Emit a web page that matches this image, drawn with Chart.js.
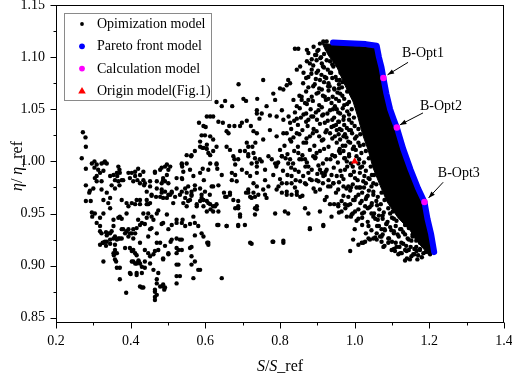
<!DOCTYPE html>
<html>
<head>
<meta charset="utf-8">
<script src="https://cdn.jsdelivr.net/npm/chart.js@4.4.0/dist/chart.umd.min.js"></script>
<style>
html, body { margin: 0; padding: 0; background: #fff; }
</style>
</head>
<body>
<canvas id="chart" width="512" height="376"></canvas>
<script>
"use strict";

var xMajor = [0.2, 0.4, 0.6, 0.8, 1.0, 1.2, 1.4];
var xMinor = [0.3, 0.5, 0.7, 0.9, 1.1, 1.3];
var yMajor = [0.85, 0.90, 0.95, 1.00, 1.05, 1.10, 1.15];
var yMinor = [0.875, 0.925, 0.975, 1.025, 1.075, 1.125];

var legendNames = ["Opimization model", "Pareto front model", "Calculation model", "Origin model(Fig.1)"];

// black scatter
var optPoints = [
 [0.272,1.028],[0.279,1.023],[0.280,1.014],[0.269,1.003],[0.280,0.993],[0.280,0.977],[0.289,0.970],[0.296,0.998],[0.303,1.000],[0.309,0.997],
 [0.303,0.994],[0.318,0.989],[0.327,0.991],[0.329,0.999],[0.336,0.998],[0.322,0.981],[0.304,0.984],[0.309,0.981],[0.345,0.986],[0.354,0.987],
 [0.358,0.982],[0.364,0.986],[0.367,0.995],[0.370,0.992],[0.349,0.977],[0.358,0.974],[0.370,0.977],[0.380,0.982],[0.394,0.989],[0.398,0.984],
 [0.412,0.990],[0.418,0.982],[0.425,0.979],[0.434,0.982],[0.436,0.977],[0.465,0.989],[0.479,0.992],[0.492,0.995],[0.497,0.987],[0.470,0.981],
 [0.487,0.982],[0.501,0.979],[0.452,0.976],[0.443,0.971],[0.456,0.968],[0.483,0.973],[0.492,0.971],[0.523,0.984],[0.537,0.984],[0.510,0.971],
 [0.523,0.974],[0.537,0.971],[0.546,0.974],[0.568,0.986],[0.572,0.977],[0.550,0.970],[0.563,0.967],[0.590,0.965],
 [0.280,0.962],[0.293,0.962],[0.291,0.972],[0.300,0.974],[0.296,0.951],[0.304,0.950],[0.297,0.947],[0.309,0.941],[0.318,0.938],[0.318,0.933],
 [0.322,0.931],[0.334,0.932],[0.340,0.931],[0.349,0.933],[0.325,0.922],[0.334,0.919],[0.336,0.923],[0.345,0.921],[0.327,0.904],[0.354,0.938],
 [0.358,0.928],[0.363,0.925],[0.367,0.926],[0.376,0.926],[0.354,0.944],[0.367,0.946],[0.371,0.947],[0.376,0.945],[0.358,0.915],[0.363,0.912],
 [0.355,0.910],[0.361,0.904],[0.363,0.898],[0.371,0.898],[0.371,0.887],[0.388,0.874],[0.380,0.935],[0.385,0.931],[0.394,0.935],[0.385,0.917],
 [0.394,0.957],[0.403,0.960],[0.389,0.950],[0.403,0.931],[0.412,0.931],[0.407,0.926],[0.403,0.914],[0.407,0.915],[0.412,0.912],[0.416,0.910],
 [0.403,0.904],[0.412,0.902],[0.421,0.904],[0.425,0.902],[0.400,0.892],[0.416,0.893],[0.430,0.899],[0.430,0.893],[0.438,0.898],[0.425,0.880],
 [0.434,0.879],[0.425,0.939],[0.438,0.940],[0.434,0.950],[0.425,0.922],[0.447,0.928],[0.452,0.935],[0.456,0.936],[0.447,0.950],[0.456,0.947],
 [0.461,0.944],[0.443,0.963],[0.447,0.959],[0.416,0.963],[0.425,0.959],[0.452,0.909],[0.461,0.911],[0.470,0.922],[0.474,0.915],[0.461,0.896],
 [0.474,0.893],[0.470,0.883],[0.479,0.880],[0.487,0.880],[0.490,0.877],[0.465,0.875],[0.465,0.870],[0.465,0.867],[0.470,0.950],[0.474,0.953],
 [0.483,0.940],[0.487,0.941],[0.468,0.966],[0.479,0.966],[0.487,0.965],[0.501,0.968],[0.497,0.949],[0.501,0.935],[0.487,0.907],[0.501,0.911],
 [0.510,0.970],[0.514,0.960],[0.507,0.923],[0.523,0.926],[0.532,0.925],[0.523,0.917],[0.528,0.915],[0.523,0.901],[0.532,0.890],[0.523,0.890],
 [0.523,0.941],[0.537,0.941],[0.539,0.944],[0.546,0.965],[0.550,0.957],[0.559,0.963],[0.563,0.968],[0.559,0.917],[0.563,0.909],[0.563,0.901],
 [0.568,0.888],[0.568,0.947],[0.572,0.941],[0.577,0.959],[0.586,0.962],[0.590,0.968],[0.595,0.963],[0.586,0.896],[0.595,0.928],[0.605,0.922],
 [0.604,0.952],[0.614,0.954],[0.621,0.952],[0.626,0.957],[0.632,0.939],[0.644,0.888],[0.657,0.966],[0.666,0.968],[0.675,0.963],[0.657,0.938],
 [0.688,0.957],[0.693,0.947],[0.688,0.939],[0.706,0.939],[0.720,0.922],[0.724,0.921],[0.715,0.970],[0.724,0.965],[0.733,0.966],[0.738,0.957],
 [0.586,1.019],[0.592,1.013],[0.604,1.016],[0.608,1.008],[0.621,1.010],[0.550,1.006],[0.563,1.006],[0.572,1.010],[0.537,0.997],[0.541,0.990],
 [0.538,0.983],[0.497,0.997],[0.506,0.995],[0.501,0.992],[0.465,0.990],[0.483,0.994],[0.487,0.984],[0.492,0.981],[0.483,0.979],[0.420,0.993],
 [0.425,0.987],[0.434,0.990],[0.438,0.979],[0.452,0.981],[0.403,0.989],[0.412,0.986],[0.407,0.981],[0.363,0.989],[0.371,0.989],[0.367,0.981],
 [0.376,0.982],[0.322,0.998],[0.331,1.000],[0.313,0.992],[0.309,0.986],[0.322,0.973],[0.336,0.970],[0.345,0.965],[0.340,0.960],[0.345,0.955],
 [0.327,0.963],[0.376,0.963],[0.389,0.960],[0.412,0.959],[0.425,0.963],[0.443,0.959],[0.470,0.974],[0.483,0.970],[0.497,0.965],[0.506,0.968],
 [0.519,0.966],[0.532,0.968],[0.554,0.976],[0.563,0.971],[0.572,0.973],[0.586,0.974],[0.599,0.971],[0.612,0.968],[0.608,0.960],[0.595,0.957],
 [0.577,0.957],[0.541,0.960],[0.554,0.962],[0.456,0.967],[0.452,0.960],
 [0.327,0.950],[0.318,0.946],[0.336,0.929],[0.345,0.931],[0.331,0.923],[0.318,0.920],[0.327,0.922],[0.345,0.925],[0.354,0.926],[0.371,0.926],
 [0.358,0.920],[0.354,0.912],[0.358,0.906],[0.376,0.935],[0.389,0.933],[0.398,0.931],[0.394,0.928],[0.407,0.935],[0.416,0.936],[0.398,0.917],
 [0.407,0.904],[0.416,0.902],[0.421,0.905],[0.398,0.893],[0.416,0.891],[0.430,0.879],[0.465,0.877],[0.470,0.872],[0.438,0.915],[0.447,0.912],
 [0.465,0.914],[0.438,0.904],[0.452,0.902],[0.470,0.887],[0.487,0.882],[0.492,0.879],[0.420,0.944],[0.430,0.941],[0.443,0.946],[0.470,0.931],
 [0.479,0.922],[0.492,0.919],[0.501,0.912],[0.487,0.906],[0.510,0.925],[0.537,0.925],[0.523,0.912],[0.537,0.915],[0.528,0.901],[0.523,0.883],
 [0.563,0.918],[0.572,0.904],[0.581,0.896],[0.608,0.922],[0.572,0.929],[0.590,0.931],[0.581,0.938],[0.510,0.939],[0.523,0.944],[0.546,0.938],
 [0.559,0.940],
 [0.689,1.074],[0.702,1.060],[0.709,1.058],[0.739,1.060],[0.630,1.057],[0.653,1.058],[0.644,1.053],[0.672,1.053],[0.604,1.043],[0.613,1.043],
 [0.621,1.043],[0.583,1.037],[0.595,1.034],[0.601,1.033],[0.635,1.038],[0.647,1.037],[0.664,1.034],[0.678,1.034],[0.693,1.034],[0.698,1.037],
 [0.711,1.039],[0.722,1.034],[0.729,1.029],[0.738,1.046],[0.745,1.041],[0.590,1.025],[0.599,1.025],[0.613,1.024],[0.621,1.021],[0.657,1.029],
 [0.662,1.027],[0.586,1.014],[0.596,1.013],[0.604,1.012],[0.630,1.014],[0.613,1.006],[0.562,1.005],[0.537,0.998],[0.538,0.995],[0.550,0.998],
 [0.657,1.014],[0.666,1.011],[0.675,1.005],[0.678,1.002],[0.711,1.018],[0.715,1.014],[0.726,1.014],[0.734,1.018],[0.715,1.005],[0.724,0.998],
 [0.738,0.999],[0.693,1.010],[0.706,1.010],[0.630,0.997],[0.632,0.993],[0.593,0.993],[0.586,0.989],[0.559,0.992],[0.596,0.982],[0.621,0.976],
 [0.671,0.989],[0.680,0.987],[0.671,0.982],[0.684,0.981],[0.650,0.970],[0.666,0.970],[0.711,0.989],[0.720,0.986],[0.729,0.979],[0.738,0.976],
 [0.709,0.970],[0.720,0.966],
 [0.608,0.992],[0.613,0.998],[0.630,0.998],[0.635,0.977],[0.644,0.987],[0.617,0.976],[0.604,0.962],[0.613,0.959],[0.621,0.957],[0.630,0.959],
 [0.635,0.952],[0.653,0.966],[0.688,0.962],[0.680,0.955],[0.688,0.955],[0.693,0.949],[0.635,0.939],[0.657,0.938],[0.688,0.938],[0.608,0.920],
 [0.782,0.923],[0.809,0.924],[0.733,0.955],[0.733,0.949],[0.787,0.950],[0.813,0.952],[0.822,0.950],[0.867,0.955],[0.876,0.950],[0.907,0.952],
 [0.880,0.936],[0.916,0.939],[0.715,0.973],[0.729,0.970],[0.742,0.968],[0.755,0.973],[0.769,0.976],[0.791,0.973],[0.805,0.970],[0.818,0.971],
 [0.831,0.968],[0.845,0.971],[0.854,0.966],[0.867,0.979],[0.885,0.982],[0.903,0.981],[0.916,0.986],[0.907,0.973],[0.715,1.007],[0.733,1.003],
 [0.751,1.000],[0.738,0.995],[0.760,0.992],[0.778,1.002],[0.791,0.997],[0.805,1.005],[0.822,0.998],[0.840,0.992],[0.858,1.002],[0.876,0.995],
 [0.894,1.003],[0.907,0.992],[0.680,0.997],[0.688,1.002],[0.698,0.992],
 [0.738,0.954],[0.760,0.968],[0.764,0.965],[0.780,0.923],[0.809,0.922],[0.796,0.976],[0.818,0.968],[0.831,0.979],[0.845,0.968],[0.880,0.935],
 [0.938,0.947],[0.956,0.959],[0.974,0.959],[0.988,0.959],[0.988,0.914],[0.996,0.925],[1.010,0.920],[1.019,0.922],[1.028,0.923],[1.041,0.925],
 [1.050,0.926],[1.059,0.925],[1.068,0.928],[1.072,0.923],[1.077,0.918],[1.090,0.922],[1.099,0.915],[1.108,0.914],[1.117,0.911],[1.126,0.912],
 [1.135,0.915],[1.139,0.914],[1.148,0.906],[1.157,0.911],[1.166,0.914],[1.175,0.915],[1.184,0.912],[1.193,0.914],[1.202,0.911],
 [0.840,1.108],[0.849,1.108],[0.872,1.107],[0.876,1.104],[0.894,1.102],[0.907,1.113],[0.916,1.115],[0.925,1.115],[0.903,1.107],[0.938,1.110],
 [0.755,1.078],[0.782,1.065],[0.787,1.059],[0.800,1.070],[0.809,1.069],[0.818,1.073],[0.827,1.075],[0.822,1.078],[0.845,1.088],[0.854,1.091],
 [0.863,1.085],[0.876,1.081],[0.885,1.088],[0.872,1.096],[0.880,1.094],[0.898,1.097],[0.912,1.094],[0.925,1.097],[0.934,1.096],[0.898,1.085],
 [0.907,1.078],[0.920,1.081],[0.934,1.085],[0.836,1.059],[0.845,1.053],[0.858,1.062],[0.867,1.056],[0.876,1.059],[0.889,1.072],[0.898,1.065],
 [0.912,1.069],[0.920,1.062],[0.929,1.072],[0.943,1.091],[0.952,1.078],[0.961,1.065],[0.738,1.049],[0.751,1.046],[0.764,1.053],[0.773,1.044],
 [0.791,1.043],[0.805,1.049],[0.809,1.040],[0.827,1.037],[0.845,1.041],[0.863,1.045],[0.876,1.040],[0.889,1.043],[0.903,1.049],[0.916,1.045],
 [0.934,1.049],[0.947,1.053],[0.961,1.046],[0.738,1.027],[0.755,1.021],[0.773,1.030],[0.791,1.024],[0.809,1.027],[0.827,1.021],[0.845,1.027],
 [0.863,1.018],[0.880,1.024],[0.898,1.029],[0.916,1.021],[0.934,1.027],[0.952,1.030],[0.970,1.024],[0.729,1.008],[0.746,1.002],[0.769,1.005],
 [0.787,0.998],[0.805,1.005],[0.827,1.002],[0.849,1.008],[0.867,1.002],[0.889,1.005],[0.907,1.010],[0.925,1.002],[0.947,1.005],[0.970,1.010],
 [0.979,1.000],[0.738,0.989],[0.760,0.982],[0.782,0.987],[0.805,0.979],[0.831,0.986],[0.854,0.981],[0.876,0.989],[0.898,0.982],[0.920,0.987],
 [0.943,0.979],[0.965,0.986],[0.983,0.976],
 [0.916,0.938],[0.934,0.959],[0.956,0.957],[0.979,0.947],[0.992,0.949],[1.001,0.952],[1.037,0.938],[1.023,0.922],[1.037,0.926],[1.059,0.931],
 [1.072,0.928],[1.081,0.934],[1.090,0.926],[0.929,0.976],[0.943,0.979],[0.956,0.973],[0.970,0.976],[0.912,0.989],[0.925,0.992],[0.938,0.987],
 [0.983,0.966],[0.996,0.963],[1.010,0.968],[1.019,0.962],[1.032,0.966],[1.046,0.960],[1.028,0.957],[0.974,0.992],[0.988,0.987],[1.001,0.984],
 [1.014,0.989],[1.023,0.981],[1.037,0.984],[1.050,0.979],[1.046,0.987],[0.947,1.005],[0.961,1.008],[0.974,1.003],[0.947,1.024],[0.961,1.021],
 [0.974,1.026],[0.988,1.018],[1.001,1.022],[1.014,1.015],[0.920,1.037],[0.938,1.033],[0.956,1.038],[0.979,1.032],[0.992,1.037],
 [0.925,1.108],[0.935,1.104],[0.948,1.100],[0.955,1.092],[0.962,1.085],[0.968,1.076],[0.958,1.070],[0.972,1.060],[0.980,1.055],[0.985,1.045],
 [0.970,1.040],[0.990,1.030],[0.995,1.012],[1.005,1.005],[1.010,0.998],[1.020,0.995],[1.025,0.975],[1.038,0.972],[1.050,0.968],[1.060,0.958],
 [1.065,0.948],[1.075,0.945],[1.085,0.940],[1.095,0.937],[1.105,0.933],[1.115,0.930],[1.125,0.935],[1.135,0.930],[1.145,0.925],[1.155,0.928],
 [1.165,0.924],[1.175,0.922],[1.185,0.920],[1.195,0.918],[1.110,0.922],[1.120,0.918],[1.130,0.921],[1.150,0.918],[1.160,0.916],[1.170,0.910],
 [1.180,0.908],[1.140,0.907],[1.105,0.945],[1.095,0.950],[1.080,0.935],[1.065,0.938],[1.055,0.945],[1.045,0.950],[1.035,0.955],[1.020,0.950],
 [1.010,0.945],[0.965,0.952],[0.950,1.060],[0.945,1.070],[0.952,1.050],[0.965,1.030],[0.975,1.015],[0.985,1.005],[0.995,0.995],[1.005,0.975],
 [1.015,0.975],[0.930,1.060],[0.940,1.040],[0.950,1.035],[0.960,1.012],[0.990,0.975],[0.910,1.100],[0.918,1.090],[0.930,1.075],[0.940,1.080],
 [0.945,1.100],[0.955,1.108],[0.965,1.100],
 // the crowded band left of the solid core
 [0.890,1.110],[0.900,1.106],[0.885,1.098],[0.897,1.102],[0.908,1.099],[0.918,1.103],
 [0.889,1.092],[0.902,1.087],[0.915,1.091],[0.928,1.088],[0.940,1.093],
 [0.870,1.080],[0.884,1.084],[0.896,1.079],[0.911,1.083],[0.924,1.080],[0.937,1.085],[0.949,1.081],[0.960,1.078],
 [0.862,1.075],[0.876,1.071],[0.893,1.074],[0.905,1.070],[0.918,1.076],[0.933,1.072],[0.946,1.069],[0.958,1.074],[0.966,1.071],
 [0.852,1.063],[0.870,1.067],[0.885,1.062],[0.903,1.066],[0.915,1.063],[0.930,1.068],[0.941,1.062],[0.954,1.066],[0.967,1.063],[0.980,1.067],
 [0.858,1.059],[0.872,1.055],[0.888,1.058],[0.905,1.054],[0.923,1.059],[0.938,1.056],[0.958,1.058],[0.972,1.054],[0.985,1.057],
 [0.840,1.047],[0.853,1.051],[0.870,1.046],[0.882,1.050],[0.896,1.047],[0.912,1.052],[0.927,1.046],[0.942,1.050],[0.956,1.047],[0.968,1.051],[0.980,1.048],[0.992,1.050],
 [0.823,1.043],[0.838,1.039],[0.856,1.042],[0.870,1.038],[0.884,1.043],[0.899,1.040],[0.913,1.044],[0.928,1.039],[0.945,1.042],[0.958,1.038],[0.971,1.043],[0.985,1.040],[0.998,1.042],
 [0.830,1.031],[0.848,1.035],[0.860,1.030],[0.874,1.034],[0.890,1.031],[0.907,1.036],[0.925,1.030],[0.944,1.034],[0.960,1.031],[0.972,1.035],[0.985,1.030],[1.000,1.034],[1.010,1.031],
 [0.818,1.027],[0.836,1.023],[0.852,1.026],[0.871,1.022],[0.888,1.027],[0.905,1.024],[0.922,1.028],[0.940,1.022],[0.957,1.026],[0.978,1.023],[0.993,1.027],[1.005,1.024],[1.015,1.026],
 [0.812,1.015],[0.830,1.019],[0.848,1.014],[0.870,1.018],[0.892,1.015],[0.912,1.020],[0.930,1.014],[0.952,1.018],[0.968,1.015],[0.983,1.019],[0.998,1.014],[1.010,1.018],[1.024,1.016],
 [0.800,1.011],[0.820,1.007],[0.838,1.010],[0.860,1.006],[0.880,1.011],[0.898,1.008],[0.918,1.012],[0.940,1.006],[0.958,1.010],[0.985,1.007],[1.003,1.011],[1.018,1.008],[1.030,1.010],
 [0.795,0.999],[0.815,1.003],[0.835,0.998],[0.852,1.002],[0.872,0.999],[0.895,1.004],[0.915,0.998],[0.935,1.002],[0.955,0.999],[0.972,1.003],[0.990,0.998],[1.012,1.002],[1.025,0.999],[1.038,1.003],
 [0.790,0.995],[0.808,0.991],[0.830,0.994],[0.850,0.990],[0.868,0.995],[0.885,0.992],[0.903,0.996],[0.922,0.990],[0.944,0.994],[0.962,0.991],[0.980,0.995],[0.998,0.990],[1.015,0.994],[1.030,0.991],[1.043,0.995],
 [0.800,0.983],[0.820,0.987],[0.842,0.982],[0.862,0.986],[0.880,0.983],[0.900,0.988],[0.930,0.982],[0.952,0.986],[0.970,0.983],[0.990,0.987],[1.008,0.982],[1.026,0.986],[1.040,0.983],[1.052,0.987],
 [0.818,0.979],[0.840,0.975],[0.870,0.978],[0.890,0.974],[0.915,0.979],[0.935,0.976],[0.958,0.980],[0.978,0.974],[0.995,0.978],[1.012,0.975],[1.030,0.979],[1.045,0.976],[1.058,0.978],
 [0.860,0.967],[0.895,0.971],[0.925,0.966],[0.950,0.970],[0.970,0.967],[0.988,0.972],[1.003,0.966],[1.020,0.970],[1.035,0.967],[1.050,0.971],[1.062,0.966],[1.072,0.970],
 [0.920,0.963],[0.945,0.959],[0.965,0.962],[0.982,0.958],[1.000,0.963],[1.015,0.960],[1.030,0.964],[1.045,0.958],[1.058,0.962],[1.070,0.959],[1.080,0.963],
 [0.958,0.951],[0.975,0.955],[0.995,0.950],[1.010,0.954],[1.025,0.951],[1.040,0.956],[1.052,0.950],[1.066,0.954],[1.078,0.951],[1.090,0.955],[1.102,0.952],
 [0.990,0.947],[1.005,0.943],[1.020,0.946],[1.035,0.942],[1.050,0.947],[1.062,0.944],[1.075,0.948],[1.088,0.942],[1.100,0.946],[1.112,0.943],
 [1.000,0.935],[1.020,0.939],[1.045,0.934],[1.060,0.938],[1.072,0.935],[1.085,0.940],[1.098,0.934],[1.110,0.938],[1.122,0.935],[1.135,0.939],[1.145,0.936],
 [1.030,0.931],[1.055,0.927],[1.075,0.930],[1.092,0.926],[1.105,0.931],[1.118,0.928],[1.130,0.932],[1.142,0.926],[1.155,0.930],[1.165,0.927],
 [1.080,0.919],[1.100,0.923],[1.112,0.918],[1.125,0.922],[1.138,0.919],[1.152,0.924],[1.165,0.918],[1.178,0.922],
 [1.105,0.916],[1.122,0.912],[1.145,0.915],[1.160,0.911],[1.175,0.916],[1.190,0.913],
 [1.135,0.905],[1.152,0.909],[1.168,0.906]
];

// outline of the solid black core of the cloud
var coreOutline = [
 [0.913,1.113],[1.055,1.109],[1.073,1.080],[1.109,1.032],[1.183,0.961],[1.209,0.913],[1.197,0.911],[1.175,0.920],
 [1.148,0.934],[1.116,0.946],[1.087,0.961],[1.068,0.977],[1.049,0.994],[1.036,1.011],[1.022,1.025],[1.009,1.042],
 [0.996,1.057],[0.974,1.073],[0.953,1.090],[0.929,1.102],[0.913,1.113]
];

var frontPoints = [
 [0.942,1.114],[0.970,1.1135],[1.000,1.113],[1.030,1.1125],[1.059,1.111],[1.065,1.100],[1.072,1.090],[1.077,1.080],
 [1.085,1.065],[1.095,1.050],[1.105,1.040],[1.113,1.0325],[1.130,1.012],[1.150,0.992],[1.170,0.974],[1.187,0.961],
 [1.195,0.945],[1.205,0.930],[1.213,0.913]
];

var calcPoints = [[1.077,1.080],[1.113,1.0325],[1.187,0.961]];
var originPoints = [[1.000,1.000]];

var annotations = [
  { text: "B-Opt1", tx: 1.183, ty: 1.104, x0: 1.143, y0: 1.095, x1: 1.088, y1: 1.083 },
  { text: "B-Opt2", tx: 1.231, ty: 1.053, x0: 1.183, y0: 1.0465, x1: 1.121, y1: 1.035 },
  { text: "B-Opt3", tx: 1.279, ty: 0.989, x0: 1.237, y0: 0.980, x1: 1.198, y1: 0.965 }
];

var serif = "'Liberation Serif', 'Times New Roman', serif";

function toXY(list) {
  return list.map(function(p) { return { x: p[0], y: p[1] }; });
}

function drawMixed(ctx, parts, size) {
  var total = 0;
  parts.forEach(function(p) {
    ctx.font = (p[1] ? "italic " : "") + size + "px " + serif;
    total += ctx.measureText(p[0]).width;
  });
  var x = -total / 2;
  ctx.textAlign = "left";
  ctx.textBaseline = "alphabetic";
  parts.forEach(function(p) {
    ctx.font = (p[1] ? "italic " : "") + size + "px " + serif;
    ctx.fillText(p[0], x, 0);
    x += ctx.measureText(p[0]).width;
  });
}

function arrow(ctx, x0, y0, x1, y1) {
  ctx.beginPath();
  ctx.moveTo(x0, y0);
  ctx.lineTo(x1, y1);
  ctx.stroke();
  var ang = Math.atan2(y1 - y0, x1 - x0);
  ctx.beginPath();
  ctx.moveTo(x1, y1);
  ctx.lineTo(x1 - 7 * Math.cos(ang - 0.35), y1 - 7 * Math.sin(ang - 0.35));
  ctx.lineTo(x1 - 7 * Math.cos(ang + 0.35), y1 - 7 * Math.sin(ang + 0.35));
  ctx.closePath();
  ctx.fill();
}

var framePlugin = {
  id: "frame",
  afterDraw: function(chart) {
    var ctx = chart.ctx, a = chart.chartArea;
    var sx = chart.scales.x, sy = chart.scales.y;
    ctx.save();
    ctx.strokeStyle = "#000";
    ctx.fillStyle = "#000";
    ctx.lineWidth = 1;
    var L = Math.round(a.left) + 0.5, R = Math.round(a.right) - 0.5;
    var T = Math.round(a.top) + 0.5, B = Math.round(a.bottom) - 0.5;
    ctx.strokeRect(L, T, R - L, B - T);

    ctx.beginPath();
    xMajor.forEach(function(v) {
      var p = Math.round(sx.getPixelForValue(v)) + 0.5;
      ctx.moveTo(p, B); ctx.lineTo(p, B + 6);
    });
    xMinor.forEach(function(v) {
      var p = Math.round(sx.getPixelForValue(v)) + 0.5;
      ctx.moveTo(p, B); ctx.lineTo(p, B + 3);
    });
    yMajor.forEach(function(v) {
      var p = Math.round(sy.getPixelForValue(v)) + 0.5;
      ctx.moveTo(L, p); ctx.lineTo(L - 6, p);
    });
    yMinor.forEach(function(v) {
      var p = Math.round(sy.getPixelForValue(v)) + 0.5;
      ctx.moveTo(L, p); ctx.lineTo(L - 3, p);
    });
    ctx.stroke();

    // annotations
    ctx.font = "14px " + serif;
    ctx.textAlign = "center";
    ctx.textBaseline = "middle";
    annotations.forEach(function(n) {
      ctx.fillText(n.text, sx.getPixelForValue(n.tx), sy.getPixelForValue(n.ty));
      arrow(ctx, sx.getPixelForValue(n.x0), sy.getPixelForValue(n.y0),
                 sx.getPixelForValue(n.x1), sy.getPixelForValue(n.y1));
    });

    // legend
    var lx = 64.5, ly = 13.5, lw = 147, lh = 87;
    ctx.fillStyle = "#fff";
    ctx.fillRect(lx, ly, lw, lh);
    ctx.strokeStyle = "#8a8a8a";
    ctx.strokeRect(lx, ly, lw, lh);
    var markColors = ["#000", "#0000ff", "#ff00ff", "#ff0000"];
    legendNames.forEach(function(name, i) {
      var cy = 24 + i * 22.3, cx = 82;
      ctx.fillStyle = markColors[i];
      ctx.beginPath();
      if (i === 3) {
        ctx.moveTo(cx, cy - 4); ctx.lineTo(cx + 3.8, cy + 2.6); ctx.lineTo(cx - 3.8, cy + 2.6);
        ctx.closePath();
      } else {
        ctx.arc(cx, cy, i === 0 ? 1.9 : 2.9, 0, Math.PI * 2);
      }
      ctx.fill();
      ctx.fillStyle = "#000";
      ctx.font = "14px " + serif;
      ctx.textAlign = "left";
      ctx.textBaseline = "middle";
      ctx.fillText(name, 97, cy + 0.5);
    });

    // axis titles
    ctx.fillStyle = "#000";
    ctx.save();
    ctx.translate(280, 371);
    drawMixed(ctx, [["S", true], ["/", false], ["S", true], ["_ref", false]], 16);
    ctx.restore();
    ctx.save();
    ctx.translate(22, 166);
    ctx.rotate(-Math.PI / 2);
    drawMixed(ctx, [["\u03b7", true], ["/ ", false], ["\u03b7", true], ["_ref", false]], 16);
    ctx.restore();

    ctx.restore();
  }
};

var ctx = document.getElementById("chart").getContext("2d");
var chart = new Chart(ctx, {
  type: "scatter",
  data: {
    datasets: [
      {
        label: legendNames[2],
        data: toXY(calcPoints),
        backgroundColor: "#ff00ff",
        borderWidth: 0,
        pointRadius: 3.2,
        order: 0
      },
      {
        label: legendNames[3],
        data: toXY(originPoints),
        backgroundColor: "#ff0000",
        borderWidth: 0,
        pointStyle: "triangle",
        pointRadius: 4.2,
        order: 1
      },
      {
        type: "line",
        label: legendNames[1],
        data: toXY(frontPoints),
        borderColor: "#0000ff",
        borderWidth: 6,
        borderCapStyle: "round",
        borderJoinStyle: "round",
        pointRadius: 0,
        fill: false,
        tension: 0,
        order: 2
      },
      {
        label: legendNames[0],
        data: toXY(optPoints),
        backgroundColor: "#000",
        borderWidth: 0,
        pointRadius: 2.2,
        order: 3
      },
      {
        type: "line",
        label: "core",
        data: toXY(coreOutline),
        borderColor: "#000",
        backgroundColor: "#000",
        borderWidth: 1,
        pointRadius: 0,
        fill: "shape",
        tension: 0,
        order: 4
      }
    ]
  },
  options: {
    responsive: false,
    animation: false,
    devicePixelRatio: 1,
    layout: { padding: { top: 5, right: 8, left: 0, bottom: 0 } },
    plugins: {
      legend: { display: false },
      tooltip: { enabled: false }
    },
    scales: {
      x: {
        type: "linear",
        min: 0.2,
        max: 1.4,
        afterBuildTicks: function(s) { s.ticks = xMajor.map(function(v) { return { value: v }; }); },
        afterFit: function(s) { s.height = 53; s.paddingLeft = 0; s.paddingRight = 0; },
        grid: { display: false, drawTicks: false },
        border: { display: false },
        ticks: {
          padding: 10,
          color: "#000",
          maxRotation: 0,
          autoSkip: false,
          font: { family: serif, size: 14 },
          callback: function(v) { return Number(v).toFixed(1); }
        }
      },
      y: {
        type: "linear",
        min: 0.845,
        max: 1.15,
        afterBuildTicks: function(s) { s.ticks = yMajor.map(function(v) { return { value: v }; }); },
        afterFit: function(s) { s.width = 56; s.paddingTop = 0; s.paddingBottom = 0; },
        grid: { display: false, drawTicks: false },
        border: { display: false },
        ticks: {
          padding: 11,
          color: "#000",
          autoSkip: false,
          font: { family: serif, size: 14 },
          callback: function(v) { return Number(v).toFixed(2); }
        }
      }
    }
  },
  plugins: [framePlugin]
});
</script>
</body>
</html>
